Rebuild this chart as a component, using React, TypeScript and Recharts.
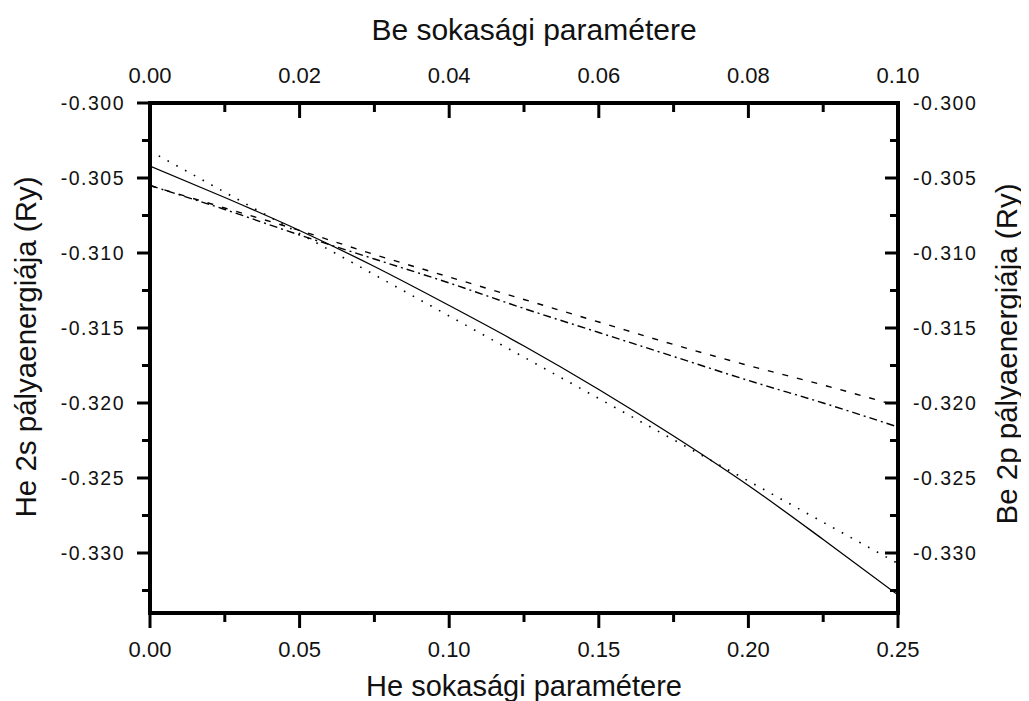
import React from 'react';
import { LineChart, Line, XAxis, YAxis, Label } from 'recharts';

// He multiplicity parameter (bottom axis) and He 2s orbital energies (Ry)
const heParam = [0, 0.025, 0.05, 0.075, 0.1, 0.125, 0.15, 0.175, 0.2, 0.225, 0.25];
const he2sEnergy = [-0.3042, -0.3063, -0.3085, -0.3109, -0.3135, -0.3162, -0.3191, -0.3222, -0.3255, -0.3291, -0.3328];
const he2sFit = [-0.3032, -0.30595, -0.3087, -0.31145, -0.3142, -0.31695, -0.3197, -0.32245, -0.3252, -0.32795, -0.3307];

// Be multiplicity parameter (top axis) and Be 2p orbital energies (Ry)
const beParam = [0, 0.01, 0.02, 0.03, 0.04, 0.05, 0.06, 0.07, 0.08, 0.09, 0.1];
const be2pEnergyA = [-0.3055, -0.307, -0.3085, -0.3101, -0.3116, -0.3131, -0.3146, -0.3161, -0.3175, -0.3188, -0.3202];
const be2pEnergyB = [-0.3055, -0.3071, -0.3088, -0.3104, -0.312, -0.3137, -0.3153, -0.3169, -0.3185, -0.32, -0.3216];

// Tick values
const heMajorTicks = [0, 0.05, 0.1, 0.15, 0.2, 0.25];
const heMinorTicks = [0.025, 0.075, 0.125, 0.175, 0.225];
const beMajorTicks = [0, 0.02, 0.04, 0.06, 0.08, 0.1];
const beMinorTicks = [0.01, 0.03, 0.05, 0.07, 0.09];
const yMajorTicks = [-0.33, -0.325, -0.32, -0.315, -0.31, -0.305, -0.3];
const yMinorTicks = [-0.3325, -0.3275, -0.3225, -0.3175, -0.3125, -0.3075, -0.3025];

const heData = heParam.map((x, i) => ({ x, energy: he2sEnergy[i], fit: he2sFit[i] }));
const beData = beParam.map((x, i) => ({ x, a: be2pEnergyA[i], b: be2pEnergyB[i] }));

const FONT = "'Liberation Sans', Arial, sans-serif";
const TEXT = '#111';
const isMajor = (v: number, majors: number[]) => majors.some((m) => Math.abs(m - v) < 1e-9);
const sortNum = (a: number[]) => [...a].sort((p, q) => p - q);

const BottomTick = (p: any) => {
  const v = p.payload.value;
  const major = isMajor(v, heMajorTicks);
  return (
    <g>
      <line x1={p.x} x2={p.x} y1={p.y} y2={p.y + (major ? 15 : 9)} stroke="#000" strokeWidth={3} />
      {major && (
        <text x={p.x} y={p.y + 44} textAnchor="middle" fontFamily={FONT} fontSize={22} fill={TEXT}>
          {v.toFixed(2)}
        </text>
      )}
    </g>
  );
};

const TopTick = (p: any) => {
  const v = p.payload.value;
  const major = isMajor(v, beMajorTicks);
  return (
    <g>
      <line x1={p.x} x2={p.x} y1={p.y} y2={p.y + (major ? 15 : 9)} stroke="#000" strokeWidth={3} />
      {major && (
        <text x={p.x} y={p.y - 20} textAnchor="middle" fontFamily={FONT} fontSize={22} fill={TEXT}>
          {v.toFixed(2)}
        </text>
      )}
    </g>
  );
};

const LeftTick = (p: any) => {
  const v = p.payload.value;
  const major = isMajor(v, yMajorTicks);
  return (
    <g>
      <line x1={p.x - (major ? 13 : 8)} x2={p.x} y1={p.y} y2={p.y} stroke="#000" strokeWidth={3} />
      {major && (
        <text x={p.x - 25} y={p.y + 7} textAnchor="end" fontFamily={FONT} fontSize={19.5} letterSpacing={1.5} fill={TEXT}>
          {v.toFixed(3)}
        </text>
      )}
    </g>
  );
};

const RightTick = (p: any) => {
  const v = p.payload.value;
  const major = isMajor(v, yMajorTicks);
  return (
    <g>
      <line x1={p.x - (major ? 13 : 8)} x2={p.x} y1={p.y} y2={p.y} stroke="#000" strokeWidth={3} />
      {major && (
        <text x={p.x + 15} y={p.y + 7} textAnchor="start" fontFamily={FONT} fontSize={19.5} letterSpacing={1.5} fill={TEXT}>
          {v.toFixed(3)}
        </text>
      )}
    </g>
  );
};

const axisLine = { stroke: '#000', strokeWidth: 4, strokeLinecap: 'square' as const };
const Y_DOMAIN: [number, number] = [-0.334, -0.3];

export default function App() {
  return (
    <div>
      <style>{`html, body { overflow: hidden; }`}</style>
      <LineChart width={1021} height={693} margin={{ top: 0, right: 0, bottom: 0, left: 0 }}>
        <XAxis
          xAxisId="bottom"
          dataKey="x"
          type="number"
          domain={[0, 0.25]}
          allowDataOverflow
          ticks={sortNum([...heMajorTicks, ...heMinorTicks])}
          interval={0}
          height={88}
          tickSize={0}
          tickMargin={0}
          tickLine={false}
          axisLine={axisLine}
          tick={(p: any) => <BottomTick {...p} />}
        >
          <Label
            content={(lp: any) => {
              const vb = lp.viewBox || { x: 142, y: 605, width: 748, height: 88 };
              return (
                <text x={vb.x + vb.width / 2} y={vb.y + vb.height - 5} textAnchor="middle" fontFamily={FONT} fontSize={29} fill={TEXT}>
                  He sokasági paramétere
                </text>
              );
            }}
          />
        </XAxis>
        <XAxis
          xAxisId="top"
          orientation="top"
          dataKey="x"
          type="number"
          domain={[0, 0.1]}
          allowDataOverflow
          ticks={sortNum([...beMajorTicks, ...beMinorTicks])}
          interval={0}
          height={95}
          tickSize={0}
          tickMargin={0}
          tickLine={false}
          axisLine={axisLine}
          tick={(p: any) => <TopTick {...p} />}
        >
          <Label
            content={(lp: any) => {
              const vb = lp.viewBox || { x: 142, y: 0, width: 748, height: 95 };
              return (
                <text x={vb.x + vb.width / 2 + 10} y={vb.y + 32} textAnchor="middle" fontFamily={FONT} fontSize={30} fill={TEXT}>
                  Be sokasági paramétere
                </text>
              );
            }}
          />
        </XAxis>
        <YAxis
          yAxisId="left"
          type="number"
          domain={Y_DOMAIN}
          allowDataOverflow
          ticks={sortNum([...yMajorTicks, ...yMinorTicks])}
          interval={0}
          width={142}
          tickSize={0}
          tickMargin={0}
          tickLine={false}
          axisLine={axisLine}
          tick={(p: any) => <LeftTick {...p} />}
        >
          <Label
            content={(lp: any) => {
              const vb = lp.viewBox || { x: 0, y: 95, width: 142, height: 510 };
              const cx = vb.x + 28;
              const cy = vb.y + vb.height / 2 - 11;
              return (
                <text x={cx} y={cy} transform={`rotate(-90, ${cx}, ${cy})`} textAnchor="middle" fontFamily={FONT} fontSize={29.5} fill={TEXT}>
                  He 2s pályaenergiája (Ry)
                </text>
              );
            }}
          />
        </YAxis>
        <YAxis
          yAxisId="right"
          orientation="right"
          type="number"
          domain={Y_DOMAIN}
          allowDataOverflow
          ticks={sortNum([...yMajorTicks, ...yMinorTicks])}
          interval={0}
          width={131}
          tickSize={0}
          tickMargin={0}
          tickLine={false}
          axisLine={axisLine}
          tick={(p: any) => <RightTick {...p} />}
        >
          <Label
            content={(lp: any) => {
              const vb = lp.viewBox || { x: 890, y: 95, width: 131, height: 510 };
              const cx = vb.x + 119;
              const cy = vb.y + vb.height / 2 - 4;
              return (
                <text x={cx} y={cy} transform={`rotate(-90, ${cx}, ${cy})`} textAnchor="middle" fontFamily={FONT} fontSize={29.5} fill={TEXT}>
                  Be 2p pályaenergiája (Ry)
                </text>
              );
            }}
          />
        </YAxis>

        <Line data={heData} xAxisId="bottom" yAxisId="left" dataKey="energy" type="monotone" stroke="#000" strokeWidth={1.3} dot={false} isAnimationActive={false} />
        <Line data={heData} xAxisId="bottom" yAxisId="left" dataKey="fit" type="linear" stroke="#000" strokeWidth={1.6} strokeDasharray="1.6 8.4" dot={false} isAnimationActive={false} />
        <Line data={beData} xAxisId="top" yAxisId="right" dataKey="a" type="monotone" stroke="#000" strokeWidth={1.4} strokeDasharray="6 9" dot={false} isAnimationActive={false} />
        <Line data={beData} xAxisId="top" yAxisId="right" dataKey="b" type="monotone" stroke="#000" strokeWidth={1.4} strokeDasharray="8 4 2 4" dot={false} isAnimationActive={false} />
      </LineChart>
    </div>
  );
}
